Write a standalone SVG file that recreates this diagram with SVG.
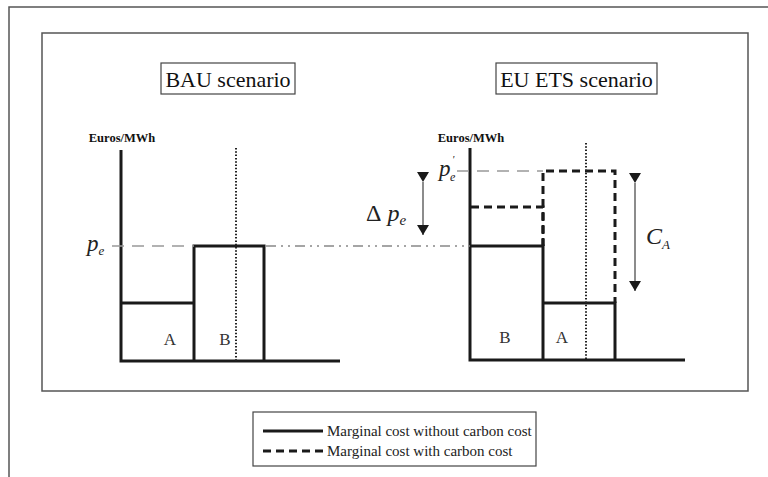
<svg xmlns="http://www.w3.org/2000/svg" width="768" height="477" viewBox="0 0 768 477">
<defs>
<style>
.frame{fill:none;stroke:#555;stroke-width:1.5}
.box{fill:#fff;stroke:#444;stroke-width:1.2}
.title{font-family:"Liberation Serif","Times New Roman",serif;font-size:22px;fill:#111}
.unit{font-family:"Liberation Serif","Times New Roman",serif;font-size:12.5px;font-weight:bold;fill:#111}
.solid{fill:none;stroke:#1a1a1a;stroke-width:3}
.dash{fill:none;stroke:#1a1a1a;stroke-width:3;stroke-dasharray:8 5}
.dot{fill:none;stroke:#222;stroke-width:2;stroke-dasharray:1.5 1.8}
.gdash{fill:none;stroke:#999;stroke-width:1.5;stroke-dasharray:12 8}
.dashdot{fill:none;stroke:#888;stroke-width:1.5;stroke-dasharray:10 5 2 5 2 5}
.arrow{fill:none;stroke:#666;stroke-width:1.5}
.lab{font-family:"Liberation Serif","Times New Roman",serif;font-size:17px;fill:#333}
.math{font-family:"Liberation Serif","Times New Roman",serif;font-style:italic;fill:#222}
.leg{font-family:"Liberation Serif","Times New Roman",serif;font-size:15px;fill:#222}
</style>
<marker id="ah" viewBox="0 0 10 12" refX="10" refY="6" markerWidth="11" markerHeight="12" markerUnits="userSpaceOnUse" orient="auto">
<path d="M0,0 L10,6 L0,12 Z" fill="#1a1a1a"/>
</marker>
</defs>
<rect width="768" height="477" fill="#fff"/>
<path class="frame" d="M9,480 V7 H770"/>
<rect class="frame" x="42" y="33" width="706" height="358"/>

<g id="bau-title">
<rect class="box" x="161" y="63" width="134" height="31"/>
<text class="title" x="228" y="86.5" text-anchor="middle">BAU scenario</text>
</g>
<g id="ets-title">
<rect class="box" x="496" y="63" width="161" height="31"/>
<text class="title" x="576.5" y="86.5" text-anchor="middle">EU ETS scenario</text>
</g>

<g id="bau-chart">
<text class="unit" x="122" y="142" text-anchor="middle">Euros/MWh</text>
<path class="solid" d="M121,150 V361 H340"/>
<path class="solid" d="M121,303 H194"/>
<path class="solid" d="M194,361 V246 H264 V361"/>
<path class="dot" d="M236,148 V361"/>
<text class="lab" x="170" y="345" text-anchor="middle">A</text>
<text class="lab" x="225" y="345" text-anchor="middle">B</text>
</g>

<g id="ets-chart">
<text class="unit" x="471" y="142" text-anchor="middle">Euros/MWh</text>
<path class="solid" d="M470,148 V360 H685"/>
<path class="solid" d="M470,246 H543 V360"/>
<path class="solid" d="M543,303 H615 V360"/>
<path class="dash" d="M471,207 H543 V246"/>
<path class="dash" d="M543,246 V171 H615 V303"/>
<path class="dot" d="M586,143 V360"/>
<text class="lab" x="505" y="343" text-anchor="middle">B</text>
<text class="lab" x="562" y="343" text-anchor="middle">A</text>
</g>

<g id="connectors">
<path class="gdash" d="M112,246 H194"/>
<path class="dashdot" d="M266,246 H470"/>
<path class="gdash" d="M457,171 H543"/>
<path class="arrow" d="M423,182 V235" marker-start="url(#ah)" marker-end="url(#ah)"/>
<path class="arrow" d="M635,183 V291" marker-start="url(#ah)" marker-end="url(#ah)"/>
</g>

<g id="labels">
<text class="math" x="87" y="251" font-size="23">p<tspan font-size="13" dy="4">e</tspan></text>
<text class="math" x="439" y="176" font-size="23">p</text>
<text class="math" x="452" y="163" font-size="11">'</text>
<text class="math" x="450" y="181" font-size="12">e</text>
<text x="366" y="221" font-family="Liberation Serif,Times New Roman,serif" font-size="24" fill="#222">Δ<tspan font-style="italic"> p</tspan><tspan font-style="italic" font-size="15" dy="4">e</tspan></text>
<text class="math" x="646" y="244" font-size="24">C<tspan font-size="13" dy="5">A</tspan></text>
</g>

<g id="legend">
<rect class="box" x="253" y="412" width="283" height="54"/>
<path class="solid" d="M263,431 H323"/>
<path class="dash" d="M263,451 H323"/>
<text class="leg" x="327" y="436">Marginal cost without carbon cost</text>
<text class="leg" x="327" y="456">Marginal cost with carbon cost</text>
</g>
</svg>
